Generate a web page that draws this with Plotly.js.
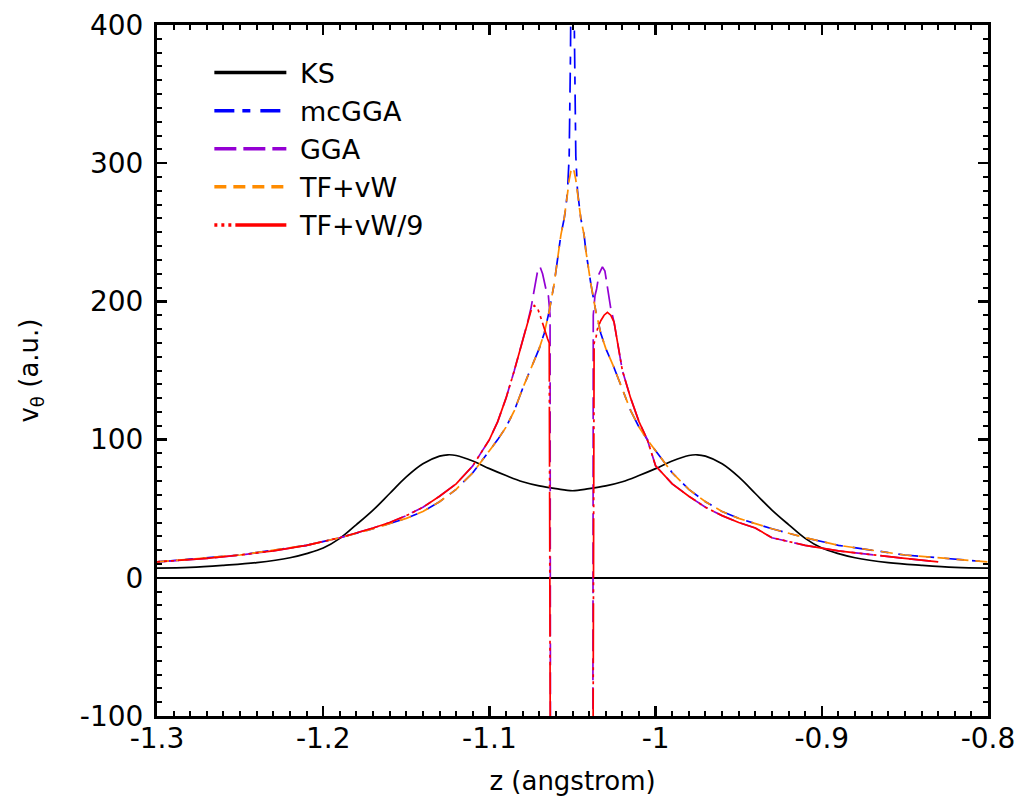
<!DOCTYPE html>
<html>
<head>
<meta charset="utf-8">
<script src="https://cdn.plot.ly/plotly-3.0.1.min.js"></script>
<style>html,body{margin:0;padding:0;background:#fff;}#plot{width:1019px;height:796px;}</style>
</head>
<body>
<div id="plot"></div>
<script>
// ---- data ----
const seriesNames = ["KS", "mcGGA", "GGA", "TF+vW", "TF+vW/9"];

const zKS = [-1.30,-1.28,-1.26,-1.24,-1.22,-1.21,-1.20,-1.19,-1.18,-1.17,-1.16,-1.15,-1.14,-1.13,-1.125,-1.12,-1.11,-1.10,-1.09,-1.08,-1.07,-1.06,-1.05,
  -1.04,-1.03,-1.02,-1.01,-1.00,-0.99,-0.98,-0.975,-0.97,-0.96,-0.95,-0.94,-0.93,-0.92,-0.91,-0.90,-0.89,-0.88,-0.86,-0.84,-0.82,-0.80];
const vKS = [7,7.5,9,11,14.5,17.5,21.5,28.5,38.5,49,61,73,82.5,88,89,88.5,84.5,79,74,69.5,66.5,64.5,63,
  64.5,66.5,69.5,74,79,84.5,88.5,89,88,82.5,73,61,49,38.5,28.5,21.5,17.5,14.5,11,9,7.5,7];

const zGGA = [-1.30,-1.27,-1.25,-1.23,-1.21,-1.19,-1.17,-1.16,-1.15,-1.14,-1.13,-1.12,-1.11,-1.10,-1.095,-1.09,-1.085,-1.08,-1.077,-1.075,-1.073,-1.071,-1.0695,-1.068,-1.066,-1.0645,-1.0635,-1.0632,
  null,
  -1.0378,-1.0375,-1.0365,-1.0355,-1.034,-1.032,-1.0305,-1.029,-1.027,-1.025,-1.023,-1.02,-1.015,-1.01,-1.005,-1.00,-0.99,-0.98,-0.97,-0.96,-0.95,-0.94,-0.93,-0.91,-0.89,-0.87,-0.85,-0.83,-0.80];
const vGGA = [11.5,14,16.5,19.5,23.5,29,36,40,45,51,59,68,81,100,113,130,150,171,185,195,210,222,225,220,209,204,190,-200,
  null,
  -200,190,204,209,220,225,222,210,195,185,171,150,130,113,100,81,68,59,51,45,40,36,29,23.5,19.5,16.5,14,11.5];

const zTF9 = [-1.30,-1.27,-1.25,-1.23,-1.21,-1.19,-1.17,-1.16,-1.15,-1.14,-1.13,-1.12,-1.11,-1.10,-1.095,-1.09,-1.085,-1.08,-1.077,-1.075,-1.073,-1.071,-1.069,-1.067,-1.065,-1.064,-1.0632,
  null,
  -1.0378,-1.037,-1.036,-1.035,-1.033,-1.031,-1.029,-1.027,-1.025,-1.023,-1.02,-1.015,-1.01,-1.005,-1.00,-0.99,-0.98,-0.97,-0.96,-0.95,-0.94,-0.93,-0.91,-0.89,-0.87,-0.85,-0.83,-0.80];
const vTF9 = [11.5,14,16.5,19.5,23.5,29,36,40,45,51,59,68,81,100,113,130,150,171,185,193,197,195,188,180,173,170,-200,
  null,
  -200,170,173,180,186,190,192,190,185,171,150,130,113,100,81,68,59,51,45,40,36,29,23.5,19.5,16.5,14,11.5];

const zTF = [-1.30,-1.25,-1.21,-1.19,-1.17,-1.15,-1.14,-1.13,-1.12,-1.11,-1.10,-1.095,-1.09,-1.085,-1.08,-1.075,-1.07,-1.067,-1.064,-1.061,-1.058,-1.057,-1.055,-1.054,-1.053,-1.052,-1.051,-1.05,
  -1.049,-1.048,-1.047,-1.046,-1.045,-1.043,-1.042,-1.039,-1.036,-1.033,-1.03,-1.025,-1.02,-1.015,-1.01,-1.005,-1.00,-0.99,-0.98,-0.97,-0.96,-0.95,-0.93,-0.91,-0.89,-0.85,-0.80];
const vTF = [11.5,16.5,23.5,29,35.5,43,48,55,64,76,92,100,109,121,137,152,166,177,193,213,237,248,260,268,278,288,294,297,
  294,288,278,268,260,248,237,213,193,177,166,152,137,121,109,100,92,76,64,55,48,43,35.5,29,23.5,16.5,11.5];

const zMC = [-1.30,-1.25,-1.21,-1.19,-1.17,-1.15,-1.14,-1.13,-1.12,-1.11,-1.10,-1.095,-1.09,-1.085,-1.08,-1.075,-1.07,-1.067,-1.064,-1.061,-1.058,-1.057,-1.055,-1.054,-1.053,-1.052,-1.0512,-1.0506,-1.05,
  -1.0494,-1.0488,-1.048,-1.047,-1.046,-1.045,-1.043,-1.042,-1.039,-1.036,-1.033,-1.03,-1.025,-1.02,-1.015,-1.01,-1.005,-1.00,-0.99,-0.98,-0.97,-0.96,-0.95,-0.93,-0.91,-0.89,-0.85,-0.80];
const vMC = [11.5,16.5,23.5,29,35.5,43,48,55,64,76,92,100,109,121,137,152,166,177,193,213,237,248,260,268,280,305,380,450,600,
  450,380,305,280,268,260,248,237,213,193,177,166,152,137,121,109,100,92,76,64,55,48,43,35.5,29,23.5,16.5,11.5];

// tick labels as printed in the reference (hyphen minus)
const xTickText = ["-1.3","-1.2","-1.1","-1","-0.9","-0.8"];
const yTickText = ["-100","0","100","200","300","400"];
const xRange = [-1.3, -0.8];
const yRange = [-100, 400];

// ---- styles ----
const FONT = "DejaVu Sans, Verdana, sans-serif";
const colors = ["#000000","#0000ff","#9400d3","#ff8c00","#ff0000"];
const dashes = ["solid","20px,8px,8px,10px","22px,7px","12px,7px","3px,4px,3px,4px,3px,4px,60px,4px"];
const zs = [zKS, zMC, zGGA, zTF, zTF9];
const vs = [vKS, vMC, vGGA, vTF, vTF9];

function aliasMap(texts) {
  const m = {};
  texts.forEach(t => { m[t.replace("-", "\u2212")] = t; });
  return m;
}

const traces = [];
for (let i = 0; i < seriesNames.length; i++) {
  traces.push({
    x: zs[i], y: vs[i], type: "scatter", mode: "lines",
    name: seriesNames[i], showlegend: false, connectgaps: false,
    line: {color: colors[i], width: 1.7, dash: dashes[i], shape: i === 0 ? "spline" : "linear"}
  });
}
// legend key samples (thicker lines, like the reference key); they live on the minor-tick overlay axes
for (let i = 0; i < seriesNames.length; i++) {
  traces.push({
    x: [null], y: [null], type: "scatter", mode: "lines",
    xaxis: "x2", yaxis: "y2",
    name: " " + seriesNames[i], showlegend: true,
    line: {color: colors[i], width: 3.5, dash: dashes[i]}
  });
}

const axisCommon = {
  showline: true, linecolor: "#000", linewidth: 3, mirror: "allticks",
  ticks: "inside", ticklen: 10, tickwidth: 2.5, tickcolor: "#000",
  showgrid: false, tickmode: "linear",
  tickfont: {family: FONT, size: 28, color: "#000"},
};
const minorCommon = {
  showline: false, mirror: "allticks", ticks: "inside", ticklen: 5, tickwidth: 2, tickcolor: "#000",
  showgrid: false, zeroline: false, showticklabels: false, tickmode: "linear"
};

const layout = {
  width: 1019, height: 796,
  margin: {l: 157, r: 31, t: 25, b: 80},
  paper_bgcolor: "#fff", plot_bgcolor: "#fff",
  font: {family: FONT, size: 27, color: "#000"},
  showlegend: true,
  legend: {
    x: 0.063, y: 0.966, xanchor: "left", yanchor: "top",
    bgcolor: "rgba(0,0,0,0)", borderwidth: 0,
    font: {family: FONT, size: 27, color: "#000"},
    itemwidth: 72, traceorder: "normal"
  },
  xaxis: Object.assign({}, axisCommon, {
    range: xRange, tick0: -1.3, dtick: 0.1, labelalias: aliasMap(xTickText),
    zeroline: false, ticklabelstandoff: -5,
    title: {text: "z (angstrom)", font: {family: FONT, size: 26, color: "#000"}, standoff: 34}
  }),
  yaxis: Object.assign({}, axisCommon, {
    range: yRange, tick0: -100, dtick: 100, labelalias: aliasMap(yTickText),
    zeroline: true, zerolinecolor: "#000", zerolinewidth: 2.5, ticklabelstandoff: 5,
    title: {text: "v<sub>θ</sub> (a.u.)", font: {family: FONT, size: 26, color: "#000"}, standoff: 34}
  }),
  xaxis2: Object.assign({}, minorCommon, {
    overlaying: "x", anchor: "y2", side: "bottom", range: xRange, tick0: -1.3, dtick: 0.01
  }),
  yaxis2: Object.assign({}, minorCommon, {
    overlaying: "y", anchor: "x2", side: "left", range: yRange, tick0: -100, dtick: 10
  })
};

Plotly.newPlot("plot", traces, layout, {displayModeBar: false, staticPlot: true});
</script>
</body>
</html>
